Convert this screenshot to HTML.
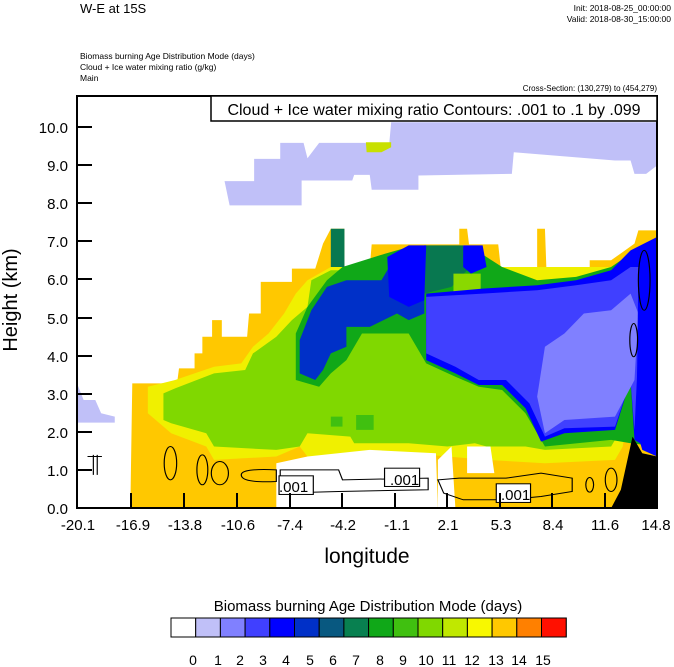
<!DOCTYPE html>
<html><head><meta charset="utf-8"><style>
body{margin:0;background:#fff;width:674px;height:667px;overflow:hidden}
svg{display:block}
text{font-family:"Liberation Sans",sans-serif;fill:#000}
</style></head><body>
<svg width="674" height="667" viewBox="0 0 674 667" xmlns="http://www.w3.org/2000/svg">
<text x="80" y="13" font-size="13">W-E at 15S</text>
<text x="671" y="11" font-size="8.5" text-anchor="end">Init: 2018-08-25_00:00:00</text>
<text x="671" y="22" font-size="8.5" text-anchor="end">Valid: 2018-08-30_15:00:00</text>
<text x="80" y="59" font-size="8.5">Biomass burning Age Distribution Mode   (days)</text>
<text x="80" y="70" font-size="8.5">Cloud + Ice water mixing ratio   (g/kg)</text>
<text x="80" y="81" font-size="8.5">Main</text>
<text x="657" y="91" font-size="8" text-anchor="end">Cross-Section: (130,279) to (454,279)</text>

<g transform="translate(77,96) scale(0.3893,0.3326) translate(-48,-46)">
<!-- lavender top cloud -->
<polygon fill="#c0c0f8" points="855,125 1538,125 1538,255 1510,280 1480,280 1470,240 1430,240 1170,215 1165,280 925,285 925,328 805,328 800,283 760,283 755,300 625,300 625,375 440,375 427,302 503,302 503,235 570,235 570,187 630,187 640,233 670,187 790,187 790,190 850,190"/>
<polygon fill="#c8e000" points="790,185 855,185 855,200 830,215 792,215"/>
<polygon fill="#c0c0f8" points="48,910 65,960 95,960 110,1000 145,1010 145,1028 48,1028"/>
<!-- orange base -->
<polygon fill="#ffc800" points="185,1285 190,910 305,910 310,865 350,865 350,820 370,820 370,770 395,770 395,720 420,720 420,770 485,770 490,700 520,700 520,605 600,605 600,565 660,565 680,490 700,445 735,445 735,560 800,560 805,492 1030,492 1030,445 1050,445 1055,492 1130,492 1140,600 1230,590 1230,445 1250,445 1255,605 1310,605 1325,590 1365,560 1365,540 1420,540 1450,515 1480,490 1490,450 1538,450 1538,1285"/>
<!-- yellow -->
<polygon fill="#f0f000" points="230,1000 230,920 300,900 400,860 470,850 500,800 540,760 580,700 610,640 640,600 700,560 1060,540 1120,560 1200,560 1420,560 1460,600 1470,900 1450,1100 1430,1140 1250,1150 1100,1140 1000,1130 900,1120 780,1120 640,1130 620,1100 560,1130 400,1140 380,1100 290,1060"/>
<!-- light green -->
<polygon fill="#80d800" points="270,1020 270,940 300,925 400,880 480,870 500,820 560,770 600,720 640,680 650,600 700,570 1000,570 1040,620 1200,620 1430,600 1470,590 1470,900 1440,1060 1420,1100 1250,1110 1200,1100 1100,1100 1070,1090 1000,1100 900,1090 760,1090 750,1070 640,1060 620,1100 560,1110 400,1100 380,1060 290,1030"/>
<polygon fill="#40c010" points="700,1010 730,1010 730,1040 700,1040"/><polygon fill="#40c010" points="765,1005 810,1005 810,1050 765,1050"/>
<!-- green border -->
<polygon fill="#10a818" points="610,900 610,760 640,680 690,600 730,560 840,520 900,500 1060,500 1140,560 1230,600 1330,590 1420,560 1470,520 1538,470 1538,1100 1470,1090 1420,1080 1250,1100 1200,1000 1140,930 1080,920 1020,890 945,850 900,760 780,760 740,840 700,880 670,920"/>
<polygon fill="#087850" points="700,445 735,445 735,560 700,560"/>
<polygon fill="#087850" points="940,495 1040,495 1050,570 1010,620 940,640"/>
<polygon fill="#8ad800" points="1015,580 1085,580 1085,640 1015,640"/>
<!-- dark blue -->
<polygon fill="#0030c8" points="620,880 620,780 650,690 690,620 740,600 830,600 850,560 900,540 940,560 940,700 900,720 870,700 800,740 740,740 740,800 700,820 680,870 660,900"/>
<polygon fill="#0000ff" points="845,530 900,495 945,495 940,660 900,680 850,650"/>
<polygon fill="#0000ff" points="1040,495 1090,495 1100,560 1060,580 1040,560"/>
<!-- right blue mass -->
<polygon fill="#0000ff" points="945,640 1090,625 1230,615 1330,600 1420,570 1470,510 1538,470 1538,1120 1480,1080 1470,900 1430,1050 1300,1060 1240,1085 1200,985 1140,915 1080,915 1020,880 945,840"/>
<polygon fill="#4040ff" points="945,650 1090,640 1230,630 1330,615 1420,600 1470,560 1500,560 1480,1050 1470,900 1430,1040 1300,1045 1250,1070 1210,970 1150,900 1080,900 1020,860 945,820"/>
<polygon fill="#8080ff" points="1250,800 1300,760 1350,700 1420,690 1470,640 1490,700 1480,900 1430,1010 1300,1020 1250,1060 1230,950"/>
<polygon fill="#0000ff" points="1490,560 1538,470 1538,1130 1500,1110 1485,1050"/>
<!-- white cutouts -->
<polygon fill="#fff" points="560,1285 560,1150 640,1130 800,1110 970,1120 975,1285"/>
<polygon fill="#fff" points="1050,1100 1110,1100 1120,1180 1050,1180"/>
<polygon fill="#fff" points="975,1140 1010,1100 1020,1285 975,1285"/>
<polygon fill="#fff" points="1480,1130 1500,1130 1500,1160 1480,1160"/>
<!-- black terrain -->
<polygon fill="#000" points="1420,1285 1445,1230 1475,1070 1500,1120 1538,1130 1538,1285"/>
<!-- contours -->
<g fill="none" stroke="#000" stroke-width="3">
<ellipse cx="288" cy="1150" rx="16" ry="50"/><ellipse cx="370" cy="1170" rx="14" ry="45"/><ellipse cx="415" cy="1180" rx="22" ry="35"/>
<path d="M470,1185 Q470,1165 560,1170 L560,1205 Q470,1210 470,1185Z"/>
<path d="M570,1170 L720,1170 L730,1200 L950,1195 L950,1230 L720,1235 L570,1240Z"/>
<path d="M975,1200 L1030,1195 L1150,1195 L1240,1180 L1320,1195 L1320,1235 L1240,1250 L1150,1260 L1040,1260 L990,1240Z"/>
<ellipse cx="1365" cy="1215" rx="10" ry="22"/><ellipse cx="1420" cy="1200" rx="15" ry="35"/>
<ellipse cx="1505" cy="600" rx="15" ry="90"/><ellipse cx="1478" cy="780" rx="10" ry="50"/>
<path d="M75,1130 L112,1130 M90,1125 L90,1185 M100,1125 L100,1185"/>
</g>
<g stroke="#000" stroke-width="3" fill="#fff">
<rect x="567" y="1188" width="88" height="56"/><rect x="838" y="1165" width="90" height="55"/><rect x="1125" y="1212" width="88" height="56"/>
</g>
</g>
<text x="279" y="492" font-size="15">.001</text>
<text x="390" y="485" font-size="15">.001</text>
<text x="501" y="500" font-size="15">.001</text>

<!-- frame -->
<rect x="77" y="96" width="580" height="412" fill="none" stroke="#000" stroke-width="2"/>
<rect x="211" y="96" width="446" height="25" fill="#fff" stroke="#000" stroke-width="1.5"/>
<text x="434" y="115" font-size="16" text-anchor="middle">Cloud + Ice water mixing ratio Contours: .001 to .1 by .099</text>
<g stroke="#000" stroke-width="2">
<line x1="77" y1="127" x2="92" y2="127"/><line x1="77" y1="165" x2="92" y2="165"/><line x1="77" y1="203" x2="92" y2="203"/><line x1="77" y1="241" x2="92" y2="241"/><line x1="77" y1="279" x2="92" y2="279"/><line x1="77" y1="318" x2="92" y2="318"/><line x1="77" y1="356" x2="92" y2="356"/><line x1="77" y1="394" x2="92" y2="394"/><line x1="77" y1="432" x2="92" y2="432"/><line x1="77" y1="470" x2="92" y2="470"/>
<line x1="131" y1="508" x2="131" y2="493"/><line x1="184" y1="508" x2="184" y2="493"/><line x1="237" y1="508" x2="237" y2="493"/><line x1="290" y1="508" x2="290" y2="493"/><line x1="342" y1="508" x2="342" y2="493"/><line x1="395" y1="508" x2="395" y2="493"/><line x1="447" y1="508" x2="447" y2="493"/><line x1="500" y1="508" x2="500" y2="493"/><line x1="552" y1="508" x2="552" y2="493"/><line x1="605" y1="508" x2="605" y2="493"/>
</g>
<g font-size="15" text-anchor="end">
<text x="68" y="133">10.0</text><text x="68" y="171">9.0</text><text x="68" y="209">8.0</text><text x="68" y="247">7.0</text><text x="68" y="285">6.0</text><text x="68" y="324">5.0</text><text x="68" y="362">4.0</text><text x="68" y="400">3.0</text><text x="68" y="438">2.0</text><text x="68" y="476">1.0</text><text x="68" y="514">0.0</text>
</g>
<g font-size="15" text-anchor="middle">
<text x="78" y="530">-20.1</text><text x="133" y="530">-16.9</text><text x="185" y="530">-13.8</text><text x="238" y="530">-10.6</text><text x="290" y="530">-7.4</text><text x="343" y="530">-4.2</text><text x="397" y="530">-1.1</text><text x="448" y="530">2.1</text><text x="501" y="530">5.3</text><text x="553" y="530">8.4</text><text x="605" y="530">11.6</text><text x="656" y="530">14.8</text>
</g>
<text x="367" y="563" font-size="21" text-anchor="middle">longitude</text>
<text transform="translate(17,300) rotate(-90)" font-size="20" text-anchor="middle">Height (km)</text>

<text x="368" y="611" font-size="15" text-anchor="middle">Biomass burning Age Distribution Mode  (days)</text>
<g stroke="#000" stroke-width="1">
<rect x="171" y="618" width="24.7" height="19" fill="#fff"/><rect x="195.7" y="618" width="24.7" height="19" fill="#c0c0f8"/><rect x="220.4" y="618" width="24.7" height="19" fill="#8080ff"/><rect x="245.1" y="618" width="24.7" height="19" fill="#4040ff"/><rect x="269.8" y="618" width="24.7" height="19" fill="#0000ff"/><rect x="294.5" y="618" width="24.7" height="19" fill="#0030c8"/><rect x="319.2" y="618" width="24.7" height="19" fill="#085880"/><rect x="343.9" y="618" width="24.7" height="19" fill="#088050"/><rect x="368.6" y="618" width="24.7" height="19" fill="#10a818"/><rect x="393.3" y="618" width="24.7" height="19" fill="#40c010"/><rect x="418" y="618" width="24.7" height="19" fill="#80d800"/><rect x="442.7" y="618" width="24.7" height="19" fill="#c0e800"/><rect x="467.4" y="618" width="24.7" height="19" fill="#f8f800"/><rect x="492.1" y="618" width="24.7" height="19" fill="#ffc800"/><rect x="516.8" y="618" width="24.7" height="19" fill="#ff8000"/><rect x="541.5" y="618" width="24.7" height="19" fill="#ff4800"/>
</g>
<rect x="541.5" y="618" width="24.7" height="19" fill="#ff1000" stroke="#000"/>
<g font-size="14" text-anchor="middle">
<text x="193" y="665">0</text><text x="218" y="665">1</text><text x="240" y="665">2</text><text x="263" y="665">3</text><text x="286" y="665">4</text><text x="310" y="665">5</text><text x="333" y="665">6</text><text x="356" y="665">7</text><text x="380" y="665">8</text><text x="403" y="665">9</text><text x="426" y="665">10</text><text x="449" y="665">11</text><text x="472" y="665">12</text><text x="496" y="665">13</text><text x="519" y="665">14</text><text x="543" y="665">15</text>
</g>
</svg>
</body></html>
